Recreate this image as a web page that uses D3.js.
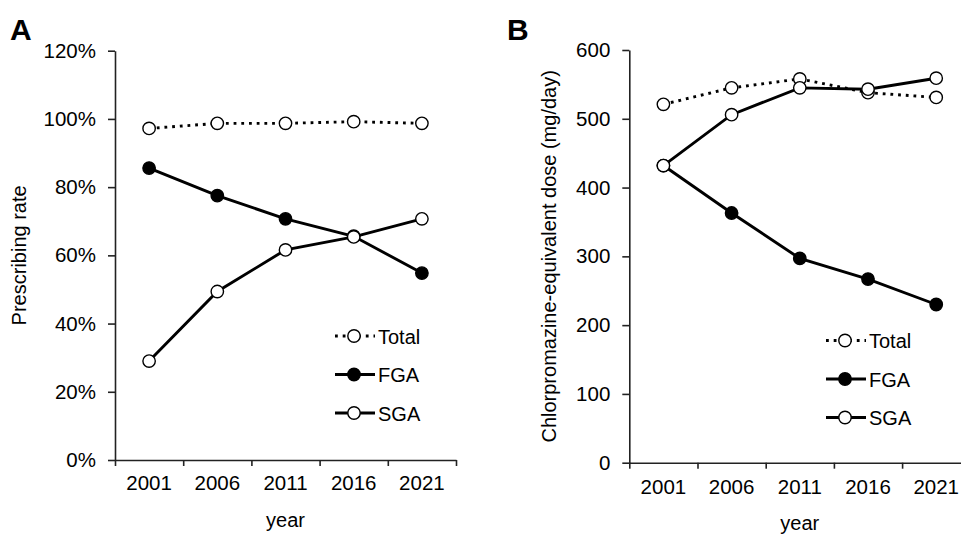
<!DOCTYPE html>
<html>
<head>
<meta charset="utf-8">
<script src="https://cdn.jsdelivr.net/npm/d3@7"></script>
<style>
  body { margin: 0; background: #fff; }
  svg { font-family: "Liberation Sans", Arial, sans-serif; }
</style>
</head>
<body>
<div id="chart"></div>
<script>
const years = ['2001', '2006', '2011', '2016', '2021'];
const seriesNames = ['Total', 'FGA', 'SGA'];

// Panel A: prescribing rate
const rateTotal = [0.972, 0.987, 0.987, 0.992, 0.987];
const rateFGA = [0.856, 0.775, 0.707, 0.656, 0.548];
const rateSGA = [0.29, 0.494, 0.616, 0.654, 0.707];
const rateTicks = [0, 0.2, 0.4, 0.6, 0.8, 1.0, 1.2];

// Panel B: chlorpromazine-equivalent dose
const doseTotal = [521, 545, 558, 538, 531];
const doseFGA = [432, 363, 297, 267, 230];
const doseSGA = [432, 506, 545, 543, 559];
const doseTicks = [0, 100, 200, 300, 400, 500, 600];

const width = 961;
const height = 534;
const band = 68.2;

const svg = d3.select('#chart')
  .append('svg')
  .attr('width', width)
  .attr('height', height);

const styles = {
  Total: { dash: '2.8,4.9', fill: '#fff' },
  FGA: { dash: null, fill: '#000' },
  SGA: { dash: null, fill: '#fff' }
};

function drawPanel(opts) {
  const g = svg.append('g');

  const x = d3.scaleBand()
    .domain(years)
    .range([opts.left, opts.left + band * years.length])
    .paddingInner(0)
    .paddingOuter(0);

  const y = d3.scaleLinear()
    .domain([0, opts.max])
    .range([opts.bottom, opts.top]);

  // y axis
  const yAxis = g.append('g')
    .attr('transform', `translate(${opts.left},0)`)
    .call(d3.axisLeft(y).tickValues(opts.ticks).tickFormat(opts.format).tickSize(7).tickSizeOuter(0).tickPadding(12));

  // x axis: ticks on band edges, labels in band centres
  const edges = d3.scaleLinear().domain([0, years.length]).range(x.range());
  const xAxis = g.append('g')
    .attr('transform', `translate(0,${opts.bottom})`)
    .call(d3.axisBottom(edges).ticks(years.length).tickFormat('').tickSize(6).tickSizeOuter(0));
  const xLabels = g.append('g')
    .attr('transform', `translate(0,${opts.bottom})`)
    .call(d3.axisBottom(x).tickSize(0).tickPadding(opts.labelPad));
  xLabels.select('.domain').remove();

  [yAxis, xAxis].forEach(a => {
    a.select('.domain').attr('stroke', '#222').attr('stroke-width', 1.6);
    a.selectAll('.tick line').attr('stroke', '#222').attr('stroke-width', 1.6);
  });
  [yAxis, xLabels].forEach(a => {
    a.selectAll('text').attr('font-size', 20.5).attr('fill', '#000')
      .style('font-family', '"Liberation Sans", Arial, sans-serif');
  });

  // axis titles
  g.append('text')
    .attr('transform', `translate(${opts.titleX},${(opts.top + opts.bottom) / 2}) rotate(-90)`)
    .attr('text-anchor', 'middle')
    .attr('font-size', 20)
    .text(opts.yTitle);

  g.append('text')
    .attr('x', opts.left + band * years.length / 2)
    .attr('y', opts.yearY)
    .attr('text-anchor', 'middle')
    .attr('font-size', 20)
    .text('year');

  // panel letter
  g.append('text')
    .attr('x', opts.letterX)
    .attr('y', 40)
    .attr('font-size', 30)
    .attr('font-weight', 'bold')
    .text(opts.letter);

  const cx = d => x(d) + x.bandwidth() / 2;
  const line = d3.line()
    .x((d, i) => cx(years[i]))
    .y(d => y(d));

  // draw order: Total, FGA, SGA
  seriesNames.forEach(name => {
    const values = opts.data[name];
    const s = styles[name];
    g.append('path')
      .datum(values)
      .attr('fill', 'none')
      .attr('stroke', '#000')
      .attr('stroke-width', 2.9)
      .attr('stroke-dasharray', s.dash)
      .attr('d', line);
    g.selectAll(null)
      .data(values)
      .enter().append('circle')
      .attr('cx', (d, i) => cx(years[i]))
      .attr('cy', d => y(d))
      .attr('r', 6.2)
      .attr('fill', s.fill)
      .attr('stroke', '#000')
      .attr('stroke-width', 1.4);
  });

  // legend
  const legend = g.append('g')
    .attr('transform', `translate(${opts.legendX},${opts.legendY})`);
  seriesNames.forEach((name, i) => {
    const s = styles[name];
    const row = legend.append('g').attr('transform', `translate(0,${i * 38.5})`);
    row.append('line')
      .attr('x1', 0).attr('x2', 40)
      .attr('y1', 0).attr('y2', 0)
      .attr('stroke', '#000')
      .attr('stroke-width', 2.9)
      .attr('stroke-dasharray', s.dash);
    row.append('circle')
      .attr('cx', 19).attr('cy', 0).attr('r', 6.2)
      .attr('fill', s.fill)
      .attr('stroke', '#000')
      .attr('stroke-width', 1.4);
    row.append('text')
      .attr('x', 43)
      .attr('y', 7.5)
      .attr('font-size', 20)
      .text(name);
  });
}

drawPanel({
  letter: 'A', letterX: 10,
  left: 115, top: 50.7, bottom: 460,
  max: 1.2, ticks: rateTicks, format: d3.format('.0%'),
  yTitle: 'Prescribing rate', titleX: 26, labelPad: 15, yearY: 527,
  legendX: 335, legendY: 336,
  data: { Total: rateTotal, FGA: rateFGA, SGA: rateSGA }
});

drawPanel({
  letter: 'B', letterX: 507,
  left: 629.3, top: 50, bottom: 462.7,
  max: 600, ticks: doseTicks, format: d3.format('d'),
  yTitle: 'Chlorpromazine-equivalent dose (mg/day)', titleX: 556, labelPad: 17, yearY: 530,
  legendX: 826, legendY: 340.5,
  data: { Total: doseTotal, FGA: doseFGA, SGA: doseSGA }
});
</script>
</body>
</html>
